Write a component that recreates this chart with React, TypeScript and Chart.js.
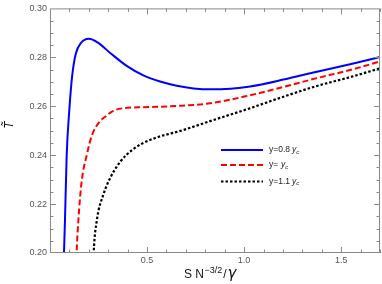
import React, { useEffect, useRef } from "react";
import { Chart, registerables } from "chart.js";

Chart.register(...registerables);

const blueS = [0.069, 0.072, 0.077, 0.086, 0.1, 0.115, 0.133, 0.16, 0.2, 0.245, 0.31, 0.395, 0.481, 0.567, 0.653, 0.739, 0.83, 0.93, 1.031, 1.203, 1.375, 1.546, 1.7];
const blueT = [0.19, 0.2, 0.213, 0.24, 0.259, 0.273, 0.2815, 0.2859, 0.2876, 0.2861, 0.2818, 0.2765, 0.2726, 0.2701, 0.2684, 0.2673, 0.2669, 0.2672, 0.2681, 0.2709, 0.2741, 0.2772, 0.2801];

const redS = [0.133, 0.137, 0.146, 0.163, 0.189, 0.215, 0.258, 0.284, 0.326, 0.378, 0.481, 0.653, 0.825, 1.031, 1.203, 1.375, 1.546, 1.7];
const redT = [0.19, 0.2, 0.2132, 0.2292, 0.2399, 0.2479, 0.2539, 0.2557, 0.2581, 0.2592, 0.2596, 0.2601, 0.2612, 0.2645, 0.2679, 0.2715, 0.2748, 0.2783];

const blackS = [0.221, 0.225, 0.241, 0.275, 0.309, 0.361, 0.43, 0.515, 0.687, 0.859, 1.031, 1.203, 1.375, 1.546, 1.7];
const blackT = [0.19, 0.2, 0.2132, 0.2239, 0.2305, 0.2372, 0.2425, 0.2462, 0.2503, 0.2548, 0.2592, 0.2639, 0.2683, 0.2719, 0.2755];

const legendMain = ["y=0.8", "y=", "y=1.1"];

const X_MIN = 0;
const X_MAX = 1.7;
const Y_MIN = 0.2;
const Y_MAX = 0.3;

const toPts = (xs: number[], ys: number[]) => xs.map((x, i) => ({ x, y: ys[i] }));

const FONT = "'Liberation Sans', Arial, sans-serif";

const framePlugin = {
  id: "framePlugin",
  afterDatasetsDraw(chart: any) {
    const { ctx, chartArea: a, scales } = chart;
    const xs = scales.x;
    const ys = scales.y;
    ctx.save();
    ctx.strokeStyle = "#8a8a8a";
    ctx.lineWidth = 1;
    ctx.strokeRect(a.left + 0.5, a.top + 0.5, a.right - a.left - 1, a.bottom - a.top - 1);
    ctx.beginPath();
    for (let i = 1; i <= 17; i++) {
      const v = i * 0.1;
      const px = Math.round(xs.getPixelForValue(v)) + 0.5;
      const major = i % 5 === 0;
      const len = major ? 6 : 3.5;
      ctx.moveTo(px, a.bottom);
      ctx.lineTo(px, a.bottom - len);
      ctx.moveTo(px, a.top);
      ctx.lineTo(px, a.top + len);
    }
    for (let i = 1; i < 20; i++) {
      const v = 0.2 + i * 0.005;
      const py = Math.round(ys.getPixelForValue(v)) + 0.5;
      const major = i % 4 === 0;
      const len = major ? 6 : 3.5;
      ctx.moveTo(a.left, py);
      ctx.lineTo(a.left + len, py);
      ctx.moveTo(a.right, py);
      ctx.lineTo(a.right - len, py);
    }
    ctx.stroke();

    // legend
    const ds = chart.data.datasets;
    const ly = [150, 165, 181.5];
    const yx = [292, 281, 292];
    for (let i = 0; i < ds.length; i++) {
      ctx.beginPath();
      ctx.strokeStyle = ds[i].borderColor;
      ctx.lineWidth = 2;
      ctx.setLineDash(ds[i].borderDash || []);
      ctx.moveTo(221, ly[i]);
      ctx.lineTo(263, ly[i]);
      ctx.stroke();
      ctx.setLineDash([]);
      ctx.fillStyle = "#222";
      ctx.textBaseline = "middle";
      ctx.textAlign = "left";
      ctx.font = `8.5px ${FONT}`;
      ctx.fillText(legendMain[i], 269, ly[i]);
      let x = yx[i];
      ctx.font = `italic 8.5px ${FONT}`;
      ctx.fillText("y", x, ly[i]);
      x += ctx.measureText("y").width;
      ctx.font = `italic 6px ${FONT}`;
      ctx.fillText("c", x, ly[i] + 2);
    }

    // x title
    ctx.fillStyle = "#111";
    ctx.textBaseline = "alphabetic";
    ctx.textAlign = "left";
    let x = 184;
    const by = 278;
    ctx.font = `12px ${FONT}`;
    ctx.fillText("S N", x, by);
    x += ctx.measureText("S N").width + 0.5;
    ctx.font = `9px ${FONT}`;
    ctx.fillText("\u22123/2", x, by - 5);
    x += ctx.measureText("\u22123/2").width + 1;
    ctx.font = `12px ${FONT}`;
    ctx.fillText("/", x, by);
    x += ctx.measureText("/").width + 1;
    ctx.font = "italic 15px 'DejaVu Sans', sans-serif";
    ctx.fillText("\u03b3", x, by);

    // y title
    ctx.save();
    ctx.translate(10, 125);
    ctx.rotate(-Math.PI / 2);
    ctx.textAlign = "center";
    ctx.textBaseline = "middle";
    ctx.font = `italic 12px ${FONT}`;
    ctx.fillText("T\u0303", 0, 0);
    ctx.restore();

    ctx.restore();
  },
};

export default function App() {
  const ref = useRef<HTMLCanvasElement | null>(null);
  useEffect(() => {
    document.body.style.margin = "0";
    const canvas = ref.current!;
    const chart = new Chart(canvas, {
      type: "scatter",
      data: {
        datasets: [
          { label: "y=0.8 yc", data: toPts(blueS, blueT), borderColor: "#0000ff", borderWidth: 2, showLine: true, pointRadius: 0, cubicInterpolationMode: "monotone" },
          { label: "y= yc", data: toPts(redS, redT), borderColor: "#ff0000", borderWidth: 2, borderDash: [6, 3], showLine: true, pointRadius: 0, cubicInterpolationMode: "monotone" },
          { label: "y=1.1 yc", data: toPts(blackS, blackT), borderColor: "#000000", borderWidth: 2.2, borderDash: [2.5, 2], showLine: true, pointRadius: 0, cubicInterpolationMode: "monotone" },
        ] as any,
      },
      options: {
        animation: false,
        responsive: false,
        maintainAspectRatio: false,
        layout: { padding: { top: 3, right: 1, left: 0, bottom: 0 } },
        plugins: { legend: { display: false }, tooltip: { enabled: false } },
        scales: {
          x: {
            type: "linear",
            min: X_MIN,
            max: X_MAX,
            grid: { display: false, drawTicks: false },
            border: { display: false },
            ticks: {
              stepSize: 0.1,
              autoSkip: false,
              maxRotation: 0,
              padding: 2,
              color: "#555",
              font: { size: 9, family: FONT },
              callback: (v: any) => {
                const n = Number(v);
                if (n > 0.01 && Math.abs(n * 2 - Math.round(n * 2)) < 1e-6) return n.toFixed(1);
                return "";
              },
            },
            afterFit: (s: any) => { s.height = 31; },
          },
          y: {
            type: "linear",
            min: Y_MIN,
            max: Y_MAX,
            grid: { display: false, drawTicks: false },
            border: { display: false },
            ticks: {
              stepSize: 0.005,
              autoSkip: false,
              padding: 3,
              color: "#555",
              font: { size: 9, family: FONT },
              callback: (v: any) => {
                const n = Number(v);
                if (Math.abs(n * 50 - Math.round(n * 50)) < 1e-6) return n.toFixed(2);
                return "";
              },
            },
            afterFit: (s: any) => { s.width = 50; },
          },
        },
      } as any,
      plugins: [framePlugin],
    });
    return () => chart.destroy();
  }, []);
  return (
    <div style={{ position: "absolute", left: 0, top: 0, width: 382, height: 284, background: "#fff" }}>
      <canvas ref={ref} width={382} height={284} style={{ width: 382, height: 284, display: "block" }} />
    </div>
  );
}
